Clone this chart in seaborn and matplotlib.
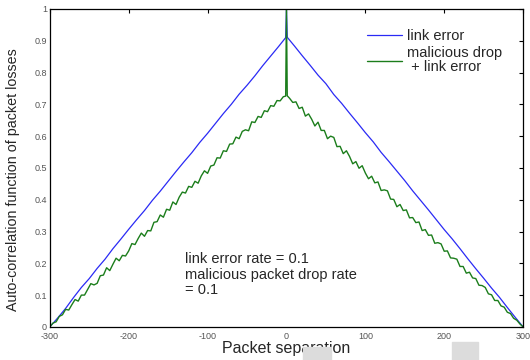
import numpy as np
import pandas as pd
import seaborn as sns
import matplotlib.pyplot as plt
from matplotlib.patches import Rectangle

# Packet separation (lag) values
lags_blue = list(range(-300, 0, 10)) + [-1, 0, 1] + list(range(10, 301, 10))
lags_green = list(range(-300, 0, 4)) + [-1, 0, 1] + list(range(4, 301, 4))

# Auto-correlation, link error only
link_error = [
    0.000, 0.028, 0.058, 0.092, 0.124, 0.152, 0.184, 0.213, 0.246, 0.276,
    0.307, 0.337, 0.366, 0.398, 0.427, 0.458, 0.489, 0.519, 0.548, 0.580,
    0.609, 0.640, 0.671, 0.700, 0.732, 0.760, 0.790, 0.822, 0.852, 0.882,
    0.910, 1.000, 0.911,
    0.884, 0.853, 0.823, 0.792, 0.765, 0.731, 0.703, 0.672, 0.642, 0.611,
    0.582, 0.549, 0.520, 0.490, 0.460, 0.428, 0.398, 0.368, 0.337, 0.306,
    0.277, 0.246, 0.214, 0.183, 0.153, 0.122, 0.093, 0.061, 0.030, 0.000,
]

# Auto-correlation, malicious drop + link error
malicious = [
    0.000, 0.012, 0.016, 0.033, 0.038, 0.055, 0.053, 0.070, 0.086, 0.081,
    0.100, 0.100, 0.118, 0.136, 0.132, 0.137, 0.161, 0.163, 0.186, 0.177,
    0.197, 0.216, 0.208, 0.225, 0.223, 0.239, 0.262, 0.259, 0.278, 0.295,
    0.285, 0.303, 0.302, 0.329, 0.331, 0.352, 0.345, 0.370, 0.367, 0.393,
    0.385, 0.408, 0.424, 0.421, 0.442, 0.439, 0.458, 0.452, 0.475, 0.491,
    0.483, 0.506, 0.509, 0.532, 0.531, 0.554, 0.552, 0.575, 0.576, 0.597,
    0.592, 0.615, 0.620, 0.617, 0.645, 0.643, 0.662, 0.659, 0.680, 0.677,
    0.696, 0.694, 0.712, 0.711, 0.724,
    0.726, 1.000, 0.727,
    0.719, 0.706, 0.708, 0.687, 0.691, 0.663, 0.670, 0.653, 0.632, 0.644,
    0.618, 0.618, 0.592, 0.600, 0.596, 0.567, 0.568, 0.545, 0.554, 0.536,
    0.513, 0.520, 0.499, 0.507, 0.484, 0.466, 0.474, 0.453, 0.456, 0.429,
    0.431, 0.428, 0.402, 0.401, 0.378, 0.385, 0.366, 0.368, 0.343, 0.344,
    0.328, 0.330, 0.303, 0.306, 0.288, 0.289, 0.263, 0.265, 0.261, 0.238,
    0.239, 0.217, 0.216, 0.213, 0.190, 0.190, 0.169, 0.172, 0.154, 0.152,
    0.131, 0.130, 0.124, 0.104, 0.101, 0.083, 0.083, 0.066, 0.062, 0.046,
    0.042, 0.027, 0.021, 0.009, 0.000,
]

x_ticks = [-300, -200, -100, 0, 100, 200, 300]
y_ticks = [0, 0.1, 0.2, 0.3, 0.4, 0.5, 0.6, 0.7, 0.8, 0.9, 1]
y_labels = ["0", "0.1", "0.2", "0.3", "0.4", "0.5", "0.6", "0.7", "0.8", "0.9", "1"]

df_blue = pd.DataFrame({"lag": lags_blue, "acf": link_error})
df_green = pd.DataFrame({"lag": lags_green, "acf": malicious})

sns.set_style("white")
plt.rcParams["font.family"] = ["Liberation Sans", "DejaVu Sans"]
plt.rcParams["axes.unicode_minus"] = False

fig = plt.figure(figsize=(5.3, 3.6), dpi=100)
ax = fig.add_axes([0.094, 0.092, 0.893, 0.883])

sns.lineplot(data=df_blue, x="lag", y="acf", ax=ax, color="#2a2af5",
             linewidth=0.9, estimator=None, label="link error")
sns.lineplot(data=df_green, x="lag", y="acf", ax=ax, color="#1b7d1b",
             linewidth=1.0, estimator=None, label="malicious drop\n + link error")

ax.set_xlim(-300, 300)
ax.set_ylim(0, 1)
ax.set_xticks(x_ticks)
ax.set_xticklabels([str(t) for t in x_ticks])
ax.set_yticks(y_ticks)
ax.set_yticklabels(y_labels)
ax.tick_params(direction="in", top=True, right=True, length=3, width=0.8,
               labelsize=6.5, labelcolor="#555555", color="black", pad=2)
ax.tick_params(axis="x", pad=3.5)
for s in ax.spines.values():
    s.set_color("black")
    s.set_linewidth(0.9)

ax.set_xlabel("Packet separation", fontsize=11.5, labelpad=0)
ax.set_ylabel("Auto-correlation function of packet losses", fontsize=10.3)
ax.yaxis.set_label_coords(-0.063, 0.462)

ax.legend(loc="upper left", bbox_to_anchor=(0.67, 0.938), frameon=False,
          fontsize=10.5, handlelength=2.4, handletextpad=0.35, labelspacing=0.25,
          borderpad=0, borderaxespad=0)
for t in ax.get_legend().get_texts():
    t.set_linespacing(1.0)

ax.text(-129, 0.235, "link error rate = 0.1\nmalicious packet drop rate\n= 0.1",
        fontsize=10.5, va="top", ha="left", linespacing=1.15)

# grey scan artifacts under the axis
fig.patches.append(Rectangle((303 / 530, 0), 28 / 530, 13 / 360,
                             transform=fig.transFigure, color="#dcdcdc", zorder=0))
fig.patches.append(Rectangle((452 / 530, 0), 26 / 530, 18 / 360,
                             transform=fig.transFigure, color="#dcdcdc", zorder=0))

plt.savefig("out.png", dpi=100)
